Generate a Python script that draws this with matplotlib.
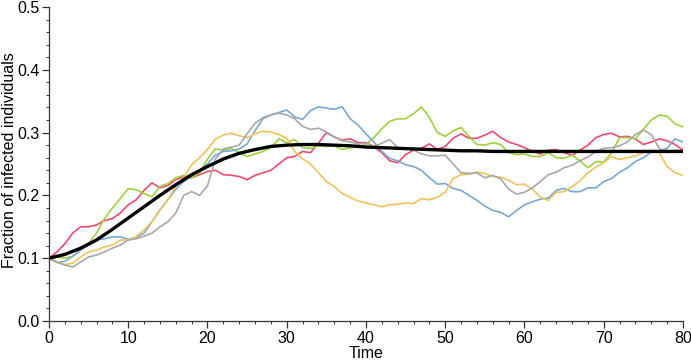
import numpy as np
import matplotlib.pyplot as plt

plt.rcParams['font.family'] = ['Liberation Sans', 'DejaVu Sans']

#%% Data (one value per time unit)
time = np.arange(0, 81)

run_red = [0.100, 0.110, 0.123, 0.140, 0.150, 0.150, 0.153, 0.160, 0.163, 0.172,
           0.185, 0.193, 0.208, 0.220, 0.212, 0.216, 0.225, 0.230, 0.228, 0.233,
           0.238, 0.240, 0.233, 0.232, 0.230, 0.225, 0.232, 0.236, 0.240, 0.250,
           0.260, 0.262, 0.270, 0.268, 0.283, 0.300, 0.293, 0.288, 0.290, 0.284,
           0.284, 0.278, 0.268, 0.255, 0.252, 0.265, 0.272, 0.275, 0.282, 0.273,
           0.278, 0.291, 0.298, 0.291, 0.291, 0.296, 0.302, 0.292, 0.285, 0.281,
           0.276, 0.270, 0.266, 0.272, 0.273, 0.268, 0.264, 0.272, 0.280, 0.292,
           0.297, 0.299, 0.293, 0.294, 0.290, 0.281, 0.285, 0.290, 0.287, 0.281,
           0.272]

run_green = [0.100, 0.102, 0.100, 0.103, 0.113, 0.124, 0.140, 0.163, 0.180, 0.195,
             0.211, 0.209, 0.203, 0.198, 0.214, 0.219, 0.228, 0.232, 0.228, 0.236,
             0.258, 0.274, 0.272, 0.275, 0.268, 0.262, 0.266, 0.270, 0.276, 0.290,
             0.284, 0.289, 0.276, 0.275, 0.279, 0.278, 0.279, 0.273, 0.276, 0.277,
             0.281, 0.292, 0.306, 0.318, 0.322, 0.322, 0.330, 0.341, 0.324, 0.300,
             0.294, 0.303, 0.308, 0.294, 0.281, 0.280, 0.284, 0.281, 0.268, 0.265,
             0.266, 0.262, 0.262, 0.268, 0.260, 0.259, 0.264, 0.255, 0.244, 0.254,
             0.253, 0.268, 0.292, 0.292, 0.290, 0.305, 0.320, 0.328, 0.326, 0.314,
             0.309]

run_blue = [0.100, 0.093, 0.095, 0.103, 0.113, 0.121, 0.129, 0.131, 0.134, 0.134,
            0.130, 0.133, 0.140, 0.158, 0.177, 0.193, 0.210, 0.222, 0.231, 0.240,
            0.250, 0.264, 0.270, 0.271, 0.274, 0.282, 0.303, 0.322, 0.328, 0.332,
            0.336, 0.325, 0.321, 0.335, 0.341, 0.339, 0.337, 0.341, 0.322, 0.312,
            0.298, 0.285, 0.270, 0.259, 0.255, 0.249, 0.246, 0.240, 0.228, 0.218,
            0.219, 0.211, 0.208, 0.200, 0.192, 0.183, 0.176, 0.173, 0.166, 0.176,
            0.185, 0.190, 0.194, 0.196, 0.208, 0.211, 0.206, 0.206, 0.212, 0.212,
            0.222, 0.227, 0.237, 0.244, 0.254, 0.260, 0.269, 0.271, 0.275, 0.290,
            0.285]

run_yellow = [0.100, 0.093, 0.090, 0.092, 0.102, 0.110, 0.113, 0.118, 0.121, 0.129,
              0.129, 0.134, 0.145, 0.158, 0.177, 0.193, 0.215, 0.228, 0.249, 0.260,
              0.273, 0.290, 0.296, 0.299, 0.295, 0.292, 0.298, 0.302, 0.301, 0.297,
              0.291, 0.270, 0.258, 0.250, 0.236, 0.222, 0.214, 0.203, 0.197, 0.191,
              0.188, 0.185, 0.182, 0.185, 0.186, 0.188, 0.187, 0.195, 0.193, 0.197,
              0.205, 0.227, 0.233, 0.234, 0.237, 0.235, 0.230, 0.229, 0.224, 0.217,
              0.218, 0.210, 0.197, 0.192, 0.205, 0.206, 0.214, 0.223, 0.236, 0.245,
              0.252, 0.262, 0.257, 0.260, 0.263, 0.268, 0.272, 0.268, 0.246, 0.236,
              0.232]

run_gray = [0.100, 0.094, 0.089, 0.086, 0.094, 0.102, 0.105, 0.110, 0.116, 0.121,
            0.129, 0.131, 0.135, 0.140, 0.150, 0.158, 0.172, 0.200, 0.206, 0.200,
            0.215, 0.258, 0.274, 0.277, 0.280, 0.298, 0.315, 0.324, 0.328, 0.331,
            0.328, 0.322, 0.310, 0.305, 0.307, 0.301, 0.293, 0.287, 0.285, 0.282,
            0.283, 0.278, 0.283, 0.289, 0.276, 0.275, 0.272, 0.266, 0.263, 0.263,
            0.264, 0.250, 0.236, 0.235, 0.236, 0.228, 0.232, 0.226, 0.210, 0.202,
            0.205, 0.212, 0.222, 0.233, 0.237, 0.244, 0.248, 0.255, 0.261, 0.270,
            0.275, 0.276, 0.279, 0.285, 0.297, 0.304, 0.297, 0.275, 0.268, 0.272,
            0.270]

# deterministic (mean-field) curve, every 2 time units
time_mean = np.arange(0, 81, 2)
mean_curve = [0.100, 0.106, 0.116, 0.129, 0.146, 0.164, 0.182, 0.200, 0.217, 0.233,
              0.246, 0.258, 0.267, 0.273, 0.278, 0.280, 0.281, 0.281, 0.280, 0.279,
              0.277, 0.276, 0.275, 0.274, 0.273, 0.272, 0.271, 0.271, 0.270, 0.270,
              0.270, 0.270, 0.270, 0.270, 0.270, 0.270, 0.270, 0.270, 0.270, 0.270,
              0.270]

runs = [(run_red, '#ee4a6c'), (run_green, '#9fd13f'), (run_blue, '#78a9d6'),
        (run_yellow, '#f0c35c'), (run_gray, '#a8a8a8')]

#%% Plot
fig = plt.figure(figsize=(6.91, 3.6), dpi=100)
ax = fig.add_axes([0.0709, 0.1083, 0.9175, 0.8723])

for vals, col in runs:
    ax.plot(time, vals, color=col, lw=1.2)
ax.plot(time_mean, mean_curve, color='black', lw=2.4)

ax.set_xlim(0, 80)
ax.set_ylim(0, 0.5)
ax.set_xticks(np.arange(0, 81, 10))
ax.set_xticks(np.arange(0, 81, 2), minor=True)
ax.set_yticks(np.arange(0, 0.51, 0.1))
ax.set_yticks(np.arange(0, 0.51, 0.02), minor=True)
ax.set_yticklabels([f"{v:.1f}" for v in np.arange(0, 0.51, 0.1)])

for s in ['top', 'right']:
    ax.spines[s].set_visible(False)
for s in ['left', 'bottom']:
    ax.spines[s].set_color('#333333')
    ax.spines[s].set_linewidth(0.9)
ax.tick_params(which='major', direction='out', length=5, width=0.9,
               labelsize=11.5, color='#333333', pad=2)
ax.tick_params(which='minor', direction='out', length=2.5, width=0.7, color='#333333')

ax.set_xlabel('Time', fontsize=11.5, labelpad=0)
ax.set_ylabel('Fraction of infected individuals', fontsize=11.5)
ax.yaxis.set_label_coords(-0.051, 0.513)

fig.savefig('out.png', dpi=100)
